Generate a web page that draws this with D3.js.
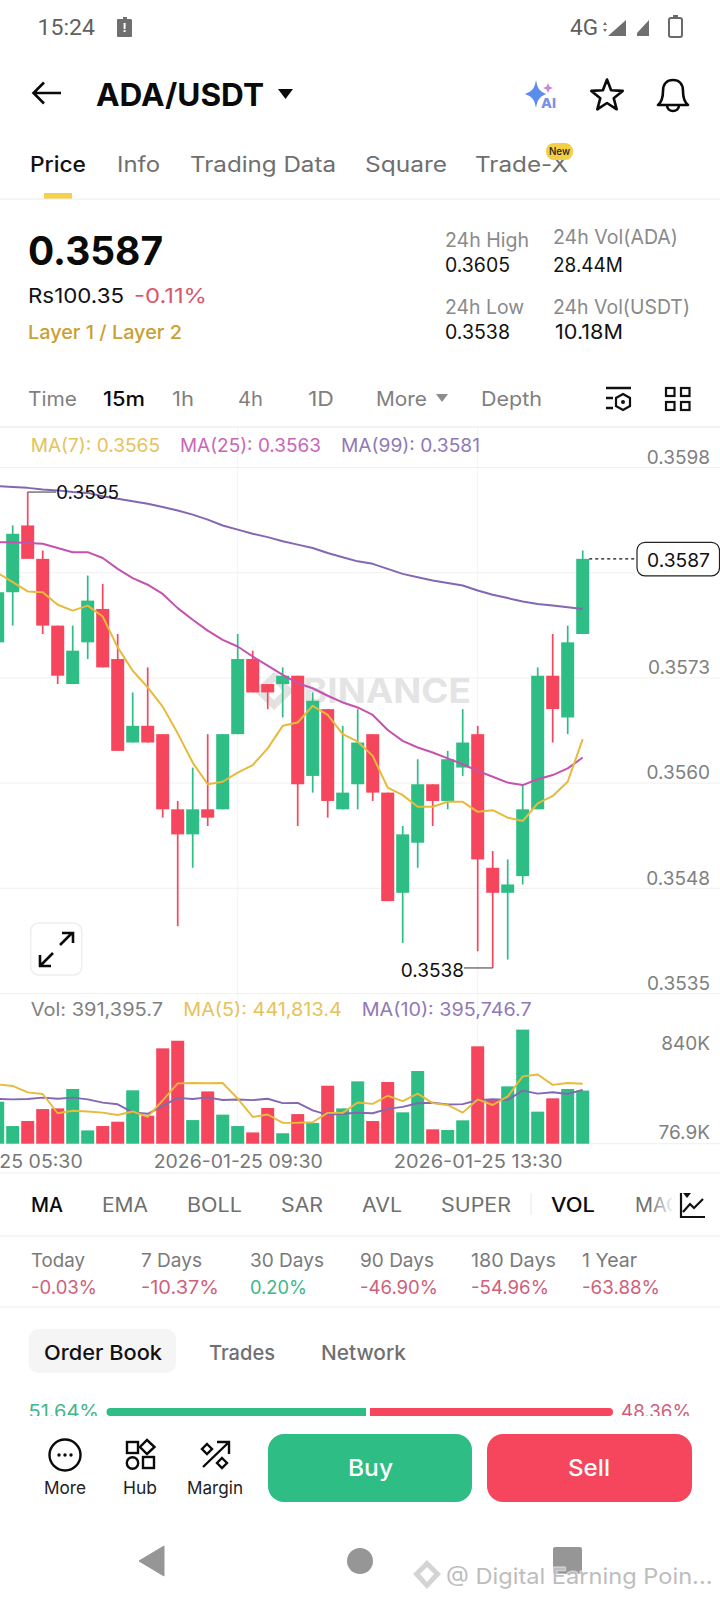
<!DOCTYPE html>
<html><head><meta charset="utf-8">
<script src="https://cdn.jsdelivr.net/npm/d3@7/dist/d3.min.js"></script>
<style>html,body{margin:0;padding:0;background:#fff}svg{display:block}</style>
</head><body><svg id="c" width="720" height="1600" viewBox="0 0 720 1600"></svg>
<script>
// ---------- data (15m candles; first entry is 2026-01-25 05:30) ----------
const priceOpen  = [.3577,.3583,.3591,.3587,.3579,.3572,.3577,.3581,.3575,.3565,.3567,.3566,.3557,.3554,.3557,.3557,.3566,.3575,.3572,.3572,.3573,.3561,.3569,.3557,.3560,.3566,.3559,.3547,.3553,.3560,.3558,.3562,.3566,.3550,.3547,.3549,.3557,.3573,.3568,.3578];
const priceClose = [.3583,.3590,.3587,.3579,.3573,.3576,.3582,.3574,.3564,.3567,.3565,.3557,.3554,.3557,.3556,.3566,.3575,.3571,.3571,.3573,.3560,.3570,.3558,.3559,.3565,.3559,.3546,.3554,.3560,.3558,.3563,.3565,.3551,.3547,.3548,.3557,.3573,.3569,.3577,.3587];
const priceHigh  = [.3585,.3591,.3595,.3588,.3579,.3579,.3585,.3584,.3578,.3571,.3574,.3566,.3558,.3562,.3566,.3566,.3578,.3576,.3572,.3574,.3573,.3571,.3569,.3567,.3569,.3566,.3559,.3555,.3563,.3560,.3564,.3569,.3567,.3552,.3551,.3560,.3574,.3578,.3579,.3588];
const priceLow   = [.3575,.3579,.3587,.3578,.3572,.3572,.3575,.3574,.3564,.3565,.3565,.3556,.3543,.3550,.3555,.3557,.3566,.3571,.3569,.3568,.3555,.3559,.3556,.3557,.3557,.3558,.3546,.3541,.3550,.3555,.3557,.3561,.3540,.3538,.3539,.3548,.3557,.3565,.3566,.3578];
const ma7  = [.35853,.35842,.35831,.35830,.35815,.35808,.35814,.35801,.35764,.35736,.35716,.35693,.35661,.35626,.35600,.35603,.35614,.35623,.35643,.35670,.35674,.35694,.35683,.35660,.35651,.35634,.35596,.35587,.35573,.35573,.35579,.35579,.35567,.35569,.35560,.35556,.35577,.35586,.35603,.35654];
const ma25 = [.35890,.35890,.35889,.35888,.35883,.35878,.35878,.35871,.35858,.35847,.35839,.35828,.35811,.35797,.35784,.35773,.35765,.35753,.35742,.35731,.35721,.35715,.35706,.35698,.35692,.35683,.35665,.35652,.35644,.35638,.35631,.35624,.35616,.35609,.35602,.35599,.35606,.35611,.35619,.35632];
const ma99 = [.35957,.35956,.35955,.35953,.35952,.35950,.35949,.35945,.35942,.35939,.35936,.35932,.35928,.35923,.35917,.35910,.35905,.35900,.35896,.35891,.35887,.35883,.35877,.35872,.35867,.35864,.35858,.35852,.35848,.35844,.35841,.35838,.35832,.35827,.35823,.35819,.35816,.35814,.35812,.35810];
const volume = [309,130,167,255,260,403,98,130,162,393,206,702,758,174,385,214,130,83,263,76.9,218,152,427,260,459,167,454,231,535,106,101,172,717,329,422,840,236,334,403,391.4];
const volMa5  = [437,425,378,366,224,243,237,229,211,237,198,319,444,447,445,447,332,197,215,153,154,158,227,227,303,293,353,314,369,299,285,229,326,285,348,496,509,433,447,441.8];
const volMa10 = [329,326,329,339,331,339,326,302,290,231,220,278,337,329,341,322,325,321,331,299,300,245,212,221,228,224,256,271,298,301,289,291,320,327,323,391,369,379,366,395.7];
const priceGrid = [.3598,.35854,.35728,.35602,.35476,.3535];
const priceLabelsHidden = [.35854];
const volTicks = [76.9,840];
const timeTickIdx = [0,16,32];
const timeLabels = ["2026-01-25 05:30","2026-01-25 09:30","2026-01-25 13:30"];
const perfNames  = ["Today","7 Days","30 Days","90 Days","180 Days","1 Year"];
const perfValues = ["-0.03%","-10.37%","0.20%","-46.90%","-54.96%","-63.88%"];

// ---------- colours ----------
const GREEN="#2EBD85", RED="#F6465D", YEL="#E8BA3C", PINK="#C552AE", PURP="#8467B0";
const FONT="Inter, 'Noto Sans', sans-serif";
const svg=d3.select("#c").style("font-family",FONT);

function T(str,x0,x1,cy,size,color,weight,layer){
  const s=(layer||svg).append("text").attr("x",x0).attr("y",cy+size*0.36).attr("font-size",size)
    .attr("fill",color).attr("font-weight",weight||400).text(str);
  if(x1!=null) s.attr("textLength",x1-x0).attr("lengthAdjust","spacingAndGlyphs");
  return s;
}
function HL(y,c,w){svg.append("line").attr("x1",0).attr("x2",720).attr("y1",y).attr("y2",y).attr("stroke",c||"#eeeeee").attr("stroke-width",w||1);}

// ---------- scales ----------
const x=d3.scaleLinear().domain([0,39]).range([-2.3,582.7]);
const y=d3.scaleLinear().domain([.3535,.3598]).range([993,467]);
const yV=d3.scaleLinear().domain([0,840]).range([1143.7,1029.6]);
const idx=d3.range(priceOpen.length);
const bodyW=13;

// ---------- chart ----------
const gridG=svg.append("g");
gridG.call(d3.axisRight(y).tickValues(priceGrid).tickSize(720).tickFormat(d=>priceLabelsHidden.includes(d)?"":d.toFixed(4)));
gridG.select(".domain").remove();
gridG.selectAll("line").attr("stroke","#f0f0f0");
gridG.selectAll("text").attr("x",710).attr("dy",-10.5+6.8).attr("text-anchor","end").attr("font-size",19).attr("font-family",FONT).attr("fill","#808080");
gridG.selectAll(".tick").filter(d=>priceLabelsHidden.includes(d)).select("text").remove();

svg.append("g").selectAll("line").data(timeTickIdx).join("line")
  .attr("x1",d=>x(d)).attr("x2",d=>x(d)).attr("y1",427).attr("y2",1143.7).attr("stroke","#f3f3f3");
HL(427,"#eeeeee",1.5); HL(1143.7,"#efefef"); HL(1173,"#eeeeee");

// watermark
const wm=svg.append("g");
wm.append("path").attr("d","M274 672 L294 691 L274 710 L254 691 Z M274 682 L283 691 L274 700 L265 691 Z").attr("fill","#e2e2e2").attr("fill-rule","evenodd");
T("BINANCE",303,471,690.5,34,"#e4e4e4",700,wm);

// candles
const cG=svg.append("g");
cG.selectAll("line").data(idx).join("line")
  .attr("x1",i=>x(i)).attr("x2",i=>x(i)).attr("y1",i=>y(priceHigh[i])).attr("y2",i=>y(priceLow[i]))
  .attr("stroke",i=>priceClose[i]>=priceOpen[i]?GREEN:RED).attr("stroke-width",1.7);
cG.selectAll("rect").data(idx).join("rect")
  .attr("x",i=>x(i)-bodyW/2).attr("width",bodyW)
  .attr("y",i=>y(Math.max(priceOpen[i],priceClose[i])))
  .attr("height",i=>Math.max(1,Math.abs(y(priceOpen[i])-y(priceClose[i]))))
  .attr("fill",i=>priceClose[i]>=priceOpen[i]?GREEN:RED);

const lineP=d3.line().x((d,i)=>x(i)).y(d=>y(d));
[[ma99,PURP],[ma25,PINK],[ma7,YEL]].forEach(([a,c])=>svg.append("path").attr("d",lineP(a)).attr("fill","none").attr("stroke",c).attr("stroke-width",2).attr("stroke-linejoin","round"));

// extreme markers
function mark(val,i,side,label){
  const yy=y(val), xx=x(i), lx=side>0?xx+28.3:xx-28.7;
  svg.append("line").attr("x1",xx).attr("x2",lx).attr("y1",yy).attr("y2",yy).attr("stroke","#555").attr("stroke-width",1.2);
  const t=T(label,null,null,yy+(side>0?0:2.4),19,"#111");
  t.attr("x",lx).attr("text-anchor",side>0?"start":"end");
}
mark(d3.max(priceHigh),idx[priceHigh.indexOf(d3.max(priceHigh))],1,d3.max(priceHigh).toFixed(4));
mark(d3.min(priceLow),idx[priceLow.indexOf(d3.min(priceLow))],-1,d3.min(priceLow).toFixed(4));

// last price
const last=priceClose[priceClose.length-1];
svg.append("line").attr("x1",x(39)+6.5).attr("x2",637).attr("y1",y(last)).attr("y2",y(last)).attr("stroke","#111").attr("stroke-width",1.2).attr("stroke-dasharray","3 3");
svg.append("rect").attr("x",637).attr("y",y(last)-16.5).attr("width",82.5).attr("height",33.5).attr("rx",8).attr("fill","#fff").attr("stroke","#222").attr("stroke-width",1.2);
T(last.toFixed(4),647,710,y(last)+1,19,"#111");

// legend
T("MA(7): 0.3565",30.7,160,445,18.5,"#E6C25A");
T("MA(25): 0.3563",180,321,445,18.5,"#C966B8");
T("MA(99): 0.3581",341,480,445,18.5,"#9079B6");

// expand button
const ex=svg.append("g");
ex.append("rect").attr("x",30.7).attr("y",923).attr("width",51).attr("height",52).attr("rx",8).attr("fill","#fff").attr("stroke","#eeeeee").attr("stroke-width",1.5);
ex.append("path").attr("d","M60 945 L72 933 M62 933 L73 933 L73 943 M53 953 L41 965 M40 955 L40 966 L51 966").attr("fill","none").attr("stroke","#0b0b0b").attr("stroke-width",2.6);

// volume
svg.append("g").selectAll("rect").data(idx).join("rect")
  .attr("x",i=>x(i)-bodyW/2).attr("width",bodyW)
  .attr("y",i=>yV(volume[i])).attr("height",i=>yV(0)-yV(volume[i]))
  .attr("fill",i=>priceClose[i]>=priceOpen[i]?GREEN:RED);
const lineV=d3.line().x((d,i)=>x(i)).y(d=>yV(d));
[[volMa10,PURP],[volMa5,YEL]].forEach(([a,c])=>svg.append("path").attr("d",lineV(a)).attr("fill","none").attr("stroke",c).attr("stroke-width",1.9).attr("stroke-linejoin","round"));
const volAxis=svg.append("g").call(d3.axisRight(yV).tickValues(volTicks).tickSize(0).tickFormat(d=>d>=100?d+"K":d.toFixed(1)+"K"));
volAxis.select(".domain").remove();
volAxis.selectAll("text").attr("x",710).attr("text-anchor","end").attr("font-size",19).attr("font-family",FONT).attr("fill","#808080")
  .attr("dy",d=>d>=100?20.4:5.4);

T("Vol: 391,395.7",30.7,163,1010,18,"#808080");
T("MA(5): 441,813.4",183.3,341.7,1010,18,"#E6C25A");
T("MA(10): 395,746.7",361.7,531.7,1010,18,"#9079B6");

const xAxis=svg.append("g").attr("transform","translate(0,1143.7)")
  .call(d3.axisBottom(x).tickValues(timeTickIdx).tickSize(0).tickFormat((d,i)=>timeLabels[i]));
xAxis.select(".domain").remove();
xAxis.selectAll("text").attr("y",0).attr("dy",24.5).attr("font-size",18.5).attr("font-family",FONT).attr("fill","#777")
  .attr("textLength",169).attr("lengthAdjust","spacingAndGlyphs");

// ---------- top chrome ----------
T("15:24",37.6,95,27,22,"#5f5f5f",400).style("font-family","Roboto");
svg.append("path").attr("d","M121 17h4v2h4a2 2 0 0 1 1 1v16a1 1 0 0 1-1 1h-13a1 1 0 0 1-1-1v-16a1 1 0 0 1 1-1h5z").attr("transform","translate(2,0)").attr("fill","#6f6f6f");
T("!",122.5,null,28,12,"#fff",700);
T("4G",570,598,27,22,"#5f5f5f",400).style("font-family","Roboto");
svg.append("path").attr("d","M626 20 V36 H608 Z M649 20 V36 H637 L637 33 Z").attr("fill","#6f6f6f");
svg.append("path").attr("d","M605 22l-2 3h4zM605 32l-2-3h4z").attr("fill","#6f6f6f");
svg.append("rect").attr("x",669).attr("y",18).attr("width",13).attr("height",19).attr("rx",2).attr("fill","none").attr("stroke","#6a6a6a").attr("stroke-width",2);
svg.append("rect").attr("x",673).attr("y",15).attr("width",5).attr("height",3).attr("fill","#6a6a6a");

svg.append("path").attr("d","M61 93H34 M44 82.5 L33.5 93 L44 103.5").attr("fill","none").attr("stroke","#0a0a0a").attr("stroke-width",2.6);
T("ADA/USDT",96,264,94.5,31,"#0a0a0a",700);
svg.append("path").attr("d","M278 89H293L285.5 99Z").attr("fill","#0a0a0a");
// AI icon
svg.append("path").attr("d","M536 80 C537.5 88 539 91 546 94 C539 97 537.5 100 536 108 C534.5 100 533 97 525 94 C533 91 534.5 88 536 80Z").attr("fill","#5B8DEF");
svg.append("path").attr("d","M548 83 L549.5 86.5 L553 88 L549.5 89.5 L548 93 L546.5 89.5 L543 88 L546.5 86.5Z").attr("fill","#C68BD8");
T("AI",541,556,103,13,"#7A90E8",800);
svg.append("path").attr("d",d3.range(10).map(i=>{const r=i%2?7:16.5,a=-Math.PI/2+i*Math.PI/5;return(i?"L":"M")+(607+r*Math.cos(a)).toFixed(1)+" "+(96+r*Math.sin(a)).toFixed(1)}).join("")+"Z").attr("fill","none").attr("stroke","#0a0a0a").attr("stroke-width",2.6).attr("stroke-linejoin","round");
svg.append("path").attr("d","M658 105 C663 101 663 95 663 91 C663 84 667 80 673 80 C679 80 683 84 683 91 C683 95 683 101 688 105 Z M667 105 C667 113 679 113 679 105").attr("fill","none").attr("stroke","#0a0a0a").attr("stroke-width",2.6).attr("stroke-linejoin","round");

T("Price",30,86,164,21,"#111",500);
T("Info",117,160,164,21,"#6f6f6f");
T("Trading Data",190,336,164,21,"#6f6f6f");
T("Square",365,447,164,21,"#6f6f6f");
T("Trade-X",475,568,164,21,"#6f6f6f");
svg.append("rect").attr("x",546).attr("y",143).attr("width",27).attr("height",17).attr("rx",8).attr("fill","#F3CF45");
T("New",549,570,151.5,11,"#222",500);
svg.append("rect").attr("x",44).attr("y",193).attr("width",28).attr("height",6).attr("fill","#F5D04B");
HL(199,"#ececec");

T("0.3587",28,163,251,39,"#0a0a0a",700);
T("Rs100.35",28,124,296,20.5,"#111");
T("-0.11%",134,207,296,20.5,"#D9576C");
T("Layer 1 / Layer 2",28,182,332,19,"#C9A032",500);
T("24h High",445,529,240,20,"#8a8a8a");
T("24h Vol(ADA)",553,678,237,20,"#8a8a8a");
T("0.3605",445,510,265,19.5,"#111");
T("28.44M",553,623,265,19.5,"#111");
T("24h Low",445,524,307,20,"#8a8a8a");
T("24h Vol(USDT)",553,690,307,20,"#8a8a8a");
T("0.3538",445,510,332,19.5,"#111");
T("10.18M",555,623,332,19.5,"#111");

T("Time",28,77,399,20,"#7f7f7f");
T("15m",103,145,399,20,"#0a0a0a",500);
T("1h",172,194,399,20,"#7f7f7f");
T("4h",238,263,399,20,"#7f7f7f");
T("1D",308,334,399,20,"#7f7f7f");
T("More",376,427,399,20,"#7f7f7f");
svg.append("path").attr("d","M436 394H448L442 402Z").attr("fill","#8d8d8d");
T("Depth",481,542,399,20,"#7f7f7f");
svg.append("path").attr("d","M606 388H631 M606 398H613 M606 408H613").attr("stroke","#111").attr("stroke-width",2.4).attr("fill","none");
svg.append("path").attr("d","M623 394L630 398V406L623 410L616 406V398Z").attr("fill","none").attr("stroke","#111").attr("stroke-width",2.2);
svg.append("circle").attr("cx",623).attr("cy",402).attr("r",2).attr("fill","#111");
[[665,387],[680,387],[665,401],[680,401]].forEach(p=>svg.append("rect").attr("x",p[0]+1).attr("y",p[1]+1).attr("width",8.5).attr("height",8).attr("fill","none").attr("stroke","#111").attr("stroke-width",2.2));

// ---------- indicators row ----------
T("MA",31,63,1205,19.5,"#0a0a0a",500);
T("EMA",102,148,1205,19.5,"#6f6f6f");
T("BOLL",187,242,1205,19.5,"#6f6f6f");
T("SAR",281,323,1205,19.5,"#6f6f6f");
T("AVL",362,402,1205,19.5,"#6f6f6f");
T("SUPER",441,511,1205,19.5,"#6f6f6f");
svg.append("line").attr("x1",531).attr("x2",531).attr("y1",1193).attr("y2",1215).attr("stroke","#e6e6e6");
T("VOL",551,595,1205,19.5,"#0a0a0a",500);
const defs=svg.append("defs");
defs.append("clipPath").attr("id","cm").append("rect").attr("x",600).attr("y",1180).attr("width",72).attr("height",50);
const gr=defs.append("linearGradient").attr("id","fd");
gr.append("stop").attr("offset","0%").attr("stop-color","#fff").attr("stop-opacity",0);
gr.append("stop").attr("offset","100%").attr("stop-color","#fff").attr("stop-opacity",.9);
const mg=svg.append("g").attr("clip-path","url(#cm)");
T("MACD",635,695,1205,19.5,"#6f6f6f",400,mg);
svg.append("rect").attr("x",650).attr("y",1190).attr("width",22).attr("height",30).attr("fill","url(#fd)");
svg.append("path").attr("d","M681 1193V1217H705 M683 1212L690 1204L694 1208L703 1199").attr("fill","none").attr("stroke","#111").attr("stroke-width",2.2);
svg.append("path").attr("d","M683 1193H691L687 1198Z").attr("fill","#111");
HL(1236,"#ececec");

const perfX=[31,141,250,360,471,582];
const perfW=[54,61,74,74,85,55];
const perfVW=[66,78,57,78,78,78];
perfNames.forEach((n,i)=>{
  T(n,perfX[i],perfX[i]+perfW[i],1260,19,"#7a7a7a");
  T(perfValues[i],perfX[i],perfX[i]+perfVW[i],1287,18.5,perfValues[i].startsWith("-")?"#D0607A":"#3FB68B");
});
HL(1307,"#ececec");

svg.append("rect").attr("x",28.5).attr("y",1329).attr("width",147.5).attr("height",44).attr("rx",10).attr("fill","#f5f5f5");
T("Order Book",44,162,1353,20.5,"#111",500);
T("Trades",209,275,1353,20.5,"#707070",500);
T("Network",321,406,1353,20.5,"#707070",500);

// ---------- order book ratio ----------
T("51.64%",28.5,99,1411,18.5,"#3FB68B");
T("48.36%",621,691,1411,18.5,"#D0607A");
svg.append("rect").attr("x",0).attr("y",1416).attr("width",720).attr("height",184).attr("fill","#fff");
svg.append("path").attr("d","M110.5 1408H366V1416H110.5A4 4 0 0 1 110.5 1408Z").attr("fill",GREEN);
svg.append("path").attr("d","M370 1408H609A4 4 0 0 1 609 1416H370Z").attr("fill",RED);

// ---------- bottom bar ----------
svg.append("circle").attr("cx",65).attr("cy",1455).attr("r",15.5).attr("fill","none").attr("stroke","#0a0a0a").attr("stroke-width",2.4);
[59,65,71].forEach(c=>svg.append("circle").attr("cx",c).attr("cy",1455).attr("r",1.7).attr("fill","#0a0a0a"));
T("More",44,86,1488,17.5,"#222");
const hub=svg.append("g").attr("fill","none").attr("stroke","#0a0a0a").attr("stroke-width",2.4);
hub.append("rect").attr("x",127).attr("y",1442).attr("width",11).attr("height",11);
hub.append("path").attr("d","M147 1440L154.5 1447L147 1454L140 1447Z");
hub.append("circle").attr("cx",132.5).attr("cy",1463).attr("r",5.7);
hub.append("rect").attr("x",143).attr("y",1457).attr("width",11).attr("height",11);
T("Hub",123,157,1488,17.5,"#222");
const mar=svg.append("g").attr("fill","none").attr("stroke","#0a0a0a").attr("stroke-width",2.4);
mar.append("path").attr("d","M203 1467L228 1443 M217 1442H229V1454");
mar.append("path").attr("d","M207 1444L212 1449L207 1454L202 1449Z M222 1458L227 1463L222 1468L217 1463Z");
T("Margin",187,243,1488,17.5,"#222");
svg.append("rect").attr("x",268).attr("y",1434).attr("width",204).attr("height",68).attr("rx",16).attr("fill",GREEN);
svg.append("rect").attr("x",487).attr("y",1434).attr("width",205).attr("height",68).attr("rx",16).attr("fill",RED);
T("Buy",348,393,1468,23,"#fff",500);
T("Sell",568,610,1468,23,"#fff",500);

// ---------- nav bar + watermark ----------
svg.append("path").attr("d","M164 1546V1576L139 1561Z").attr("fill","#969696").attr("stroke","#969696").attr("stroke-width",1).attr("stroke-linejoin","round");
svg.append("ellipse").attr("cx",360).attr("cy",1561).attr("rx",13).attr("ry",13).attr("fill","#969696");
svg.append("rect").attr("x",553).attr("y",1547).attr("width",29).attr("height",27).attr("rx",2).attr("fill","#969696");
const wk=svg.append("g");
wk.append("path").attr("d","M427 1560L441 1574L427 1589L413 1574Z M427 1567L434 1574L427 1582L420 1574Z").attr("fill","#d4d4d4").attr("fill-rule","evenodd");
T("@ Digital Earning Poin...",446,712.5,1576,22,"#fff",400,wk).attr("stroke","#fff").attr("stroke-width",3).attr("opacity",.55);
T("@ Digital Earning Poin...",446,712.5,1576,22,"#bdbdbd",400,wk);
</script></body></html>
